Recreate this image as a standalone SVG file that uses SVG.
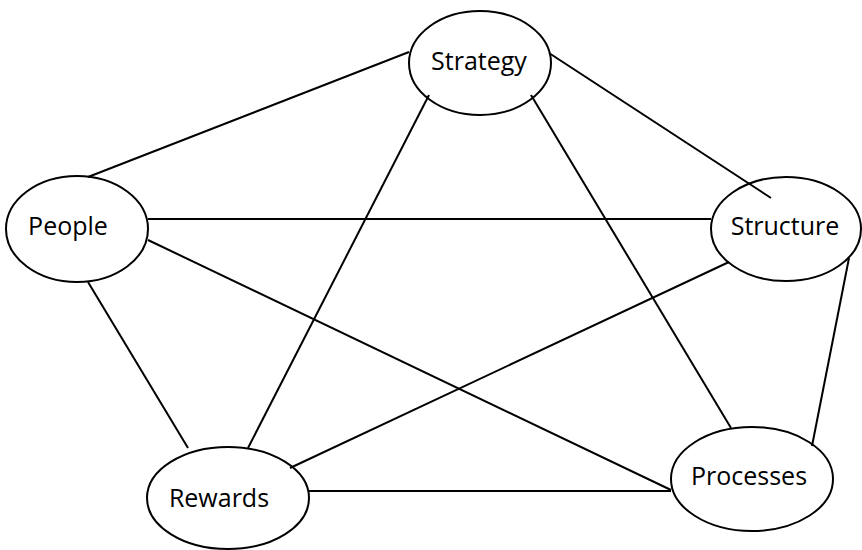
<svg xmlns="http://www.w3.org/2000/svg" width="862" height="550" viewBox="0 0 862 550">
<style>
.n ellipse{fill:#fff;stroke:#000;stroke-width:2}
.n text{font-family:"Open Sans","Noto Sans",sans-serif;font-size:25px;fill:#000;text-anchor:middle}
#edges line{stroke:#000;stroke-width:2}
</style>
<rect width="862" height="550" fill="#fff"/>
<g id="nodes-bg" class="n">
<g id="strategy"><ellipse cx="480" cy="63" rx="71" ry="52"/><text x="479" y="70">Strategy</text></g>
<g id="people"><ellipse cx="77" cy="229" rx="71" ry="53"/><text x="68" y="235">People</text></g>
<g id="structure"><ellipse cx="786" cy="229" rx="75" ry="52"/><text x="785" y="235">Structure</text></g>
<g id="rewards"><ellipse cx="228" cy="498" rx="81" ry="51"/><text x="219" y="507">Rewards</text></g>
<g id="processes"><ellipse cx="752" cy="479" rx="81" ry="52"/><text x="749" y="485">Processes</text></g>
</g>
<g id="edges">
<line x1="549" y1="53" x2="771" y2="198"/>
<line x1="531" y1="95" x2="731" y2="428"/>
<line x1="409" y1="52" x2="88" y2="177"/>
<line x1="429" y1="95" x2="248" y2="448"/>
<line x1="148" y1="219" x2="711" y2="219"/>
<line x1="148" y1="240" x2="671" y2="490"/>
<line x1="309" y1="491" x2="671" y2="491"/>
<line x1="88" y1="282" x2="188" y2="448"/>
<line x1="729" y1="262" x2="290" y2="468"/>
<line x1="849" y1="258" x2="812" y2="446"/>
</g>
</svg>
